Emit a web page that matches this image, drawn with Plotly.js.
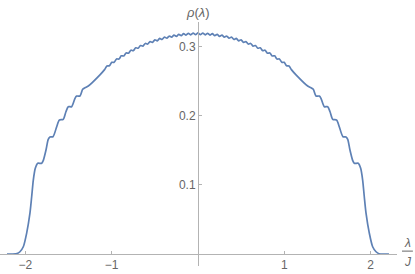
<!DOCTYPE html>
<html>
<head>
<meta charset="utf-8">
<script src="https://cdn.plot.ly/plotly-3.0.1.min.js"></script>
<style>html,body{margin:0;padding:0;background:#fff;}#chart{width:415px;height:274px;}</style>
</head>
<body>
<div id="chart"></div>
<script>
// λ/J values
const lambdaVals = [
 -2.213,-2.155,-2.097,-2.063,-2.024,-1.985,-1.947,-1.927,-1.908,-1.885,-1.857,-1.811,-1.793,-1.761,-1.735,-1.715,-1.680,-1.637,-1.607,-1.561,-1.530,-1.503,-1.464,-1.425,-1.406,-1.367,-1.336,-1.309,-1.271,-1.136,
 -1.0823,-1.0545,-1.0268,-0.999,-0.9713,-0.9435,-0.9158,-0.888,-0.8603,-0.8325,-0.8048,-0.777,-0.7493,-0.7215,-0.6938,-0.666,-0.6383,-0.6105,-0.5828,-0.555,-0.5273,-0.4995,-0.4718,-0.444,-0.4163,-0.3885,-0.3608,-0.333,-0.3053,-0.2775,-0.2498,-0.222,-0.1943,-0.1665,-0.1388,-0.111,-0.0833,-0.0555,-0.0278,0,
 0.0278,0.0555,0.0833,0.111,0.1388,0.1665,0.1943,0.222,0.2498,0.2775,0.3053,0.333,0.3608,0.3885,0.4163,0.444,0.4718,0.4995,0.5273,0.555,0.5828,0.6105,0.6383,0.666,0.6938,0.7215,0.7493,0.777,0.8048,0.8325,0.8603,0.888,0.9158,0.9435,0.9713,0.999,1.0268,1.0545,1.0823,
 1.136,1.271,1.309,1.336,1.367,1.406,1.425,1.464,1.503,1.530,1.561,1.607,1.637,1.680,1.715,1.735,1.761,1.793,1.811,1.857,1.885,1.908,1.927,1.947,1.985,2.024,2.063,2.097,2.155,2.213
];
// ρ(λ) values
const rhoVals = [
 0,0,0.0005,0.0033,0.0105,0.0303,0.0592,0.0828,0.1069,0.1238,0.1311,0.1311,0.1350,0.1503,0.1658,0.1692,0.1695,0.1840,0.1936,0.1947,0.2056,0.2129,0.2129,0.2250,0.2283,0.2283,0.2380,0.2403,0.2428,0.2590,
 0.2665,0.2717,0.2720,0.2770,0.2771,0.2819,0.2818,0.2864,0.2862,0.2906,0.2902,0.2945,0.2939,0.2981,0.2974,0.3013,0.3005,0.3043,0.3033,0.3070,0.3059,0.3094,0.3081,0.3116,0.3101,0.3135,0.3119,0.3151,0.3134,0.3164,0.3146,0.3175,0.3156,0.3184,0.3163,0.3190,0.3168,0.3194,0.3171,0.3195,
 0.3171,0.3194,0.3168,0.3190,0.3163,0.3184,0.3156,0.3175,0.3146,0.3164,0.3134,0.3151,0.3119,0.3135,0.3101,0.3116,0.3081,0.3094,0.3059,0.3070,0.3033,0.3043,0.3005,0.3013,0.2974,0.2981,0.2939,0.2945,0.2902,0.2906,0.2862,0.2864,0.2818,0.2819,0.2771,0.2770,0.2720,0.2717,0.2665,
 0.2590,0.2428,0.2403,0.2380,0.2283,0.2283,0.2250,0.2129,0.2129,0.2056,0.1947,0.1936,0.1840,0.1695,0.1692,0.1658,0.1503,0.1350,0.1311,0.1311,0.1238,0.1069,0.0828,0.0592,0.0303,0.0105,0.0033,0.0005,0,0
];
const xTickVals = [-2,-1,1,2];
const xTickText = ['\u22122','\u22121','1','2'];
const yTickVals = [0.1,0.2,0.3];
const yTickText = ['0.1','0.2','0.3'];

const xRange = [-2.294, 2.306];
const yRange = [-0.0173, 0.3353];
const axisColor = '#b3b3b3';
const textColor = '#666666';
const font = 'Liberation Sans, Arial, sans-serif';

const trace = {
  x: lambdaVals, y: rhoVals, type: 'scatter', mode: 'lines',
  line: {color: '#5E81B5', width: 1.7, shape: 'spline', smoothing: 0.7},
  hoverinfo: 'skip'
};

const layout = {
  width: 415, height: 274,
  margin: {l: 0, r: 18, t: 22, b: 8, pad: 0},
  paper_bgcolor: '#fff', plot_bgcolor: '#fff',
  showlegend: false,
  font: {family: font, size: 12, color: textColor},
  xaxis: {
    range: xRange, showgrid: false, zeroline: false,
    showline: true, linecolor: axisColor, linewidth: 1,
    anchor: 'free', position: (0 - yRange[0]) / (yRange[1] - yRange[0]),
    tickmode: 'array', tickvals: xTickVals, ticktext: xTickText,
    ticks: 'inside', ticklen: 3, tickcolor: axisColor,
    tickfont: {family: font, size: 12, color: textColor}
  },
  yaxis: {
    range: yRange, showgrid: false, zeroline: false,
    showline: true, linecolor: axisColor, linewidth: 1,
    anchor: 'free', position: (0 - xRange[0]) / (xRange[1] - xRange[0]),
    tickmode: 'array', tickvals: yTickVals, ticktext: yTickText,
    ticks: 'inside', ticklen: 3, tickcolor: axisColor,
    tickfont: {family: font, size: 12, color: textColor}
  },
  annotations: [
    {text: '<i>ρ</i>(<i>λ</i>)', xref: 'x', yref: 'paper', x: 0, y: 1.04,
     xanchor: 'center', yanchor: 'middle', showarrow: false,
     font: {family: font, size: 13, color: textColor}},
    {text: '<i>λ</i>', xref: 'paper', yref: 'paper', x: 1.0277, y: 0.094,
     xanchor: 'center', yanchor: 'middle', showarrow: false,
     font: {family: font, size: 12, color: textColor}},
    {text: '<i>J</i>', xref: 'paper', yref: 'paper', x: 1.0277, y: 0.016,
     xanchor: 'center', yanchor: 'middle', showarrow: false,
     font: {family: font, size: 12, color: textColor}}
  ],
  shapes: [
    {type: 'line', xref: 'paper', yref: 'paper', x0: 1.0126, x1: 1.040, y0: 0.061, y1: 0.061,
     line: {color: textColor, width: 1}}
  ]
};

Plotly.newPlot('chart', [trace], layout, {staticPlot: true, displayModeBar: false});
</script>
</body>
</html>
